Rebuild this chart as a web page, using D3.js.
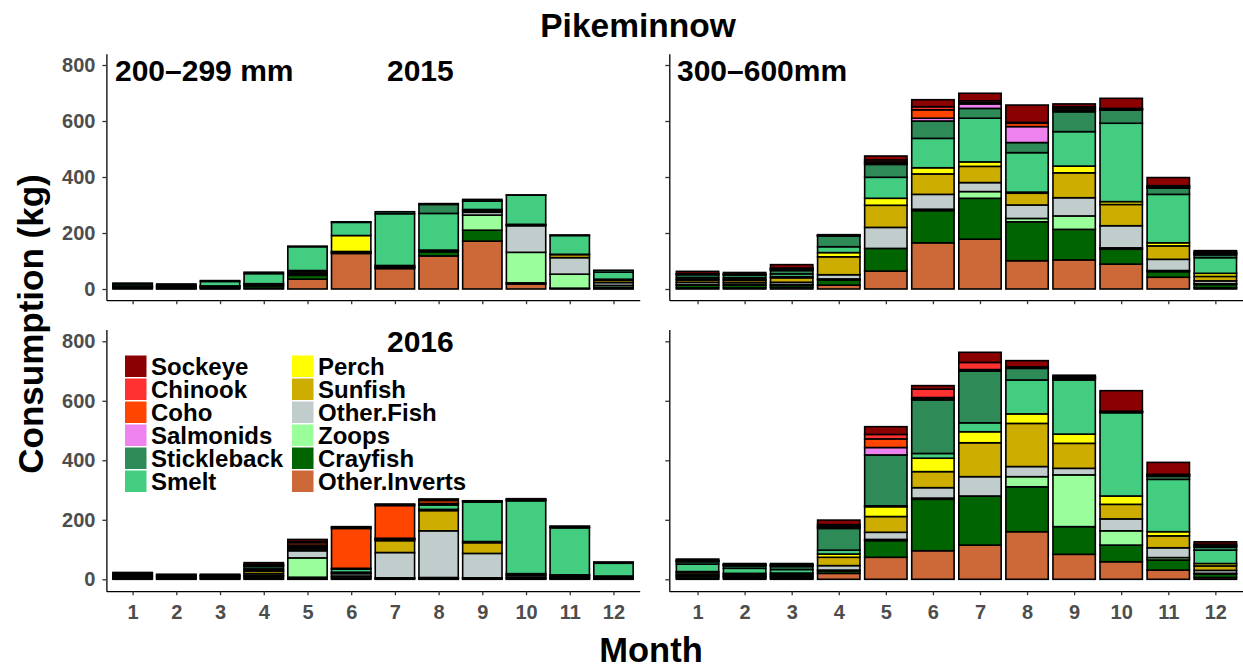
<!DOCTYPE html>
<html>
<head>
<meta charset="utf-8">
<script src="https://cdn.jsdelivr.net/npm/d3@7"></script>
<style>
  body { margin: 0; background: #fff; }
  svg { display: block; font-family: "Liberation Sans", Arial, sans-serif; font-weight: bold; }
</style>
</head>
<body>
<svg id="chart" width="1243" height="668"></svg>
<script>
// prey groups, stacked bottom -> top
var species = ["Other.Inverts", "Crayfish", "Zoops", "Other.Fish", "Sunfish", "Perch",
               "Smelt", "Stickleback", "Salmonids", "Coho", "Chinook", "Sockeye"];
var colors = ["#CD6839", "#006400", "#9AFF9A", "#C1CDCD", "#CDAD00", "#FFFF00",
              "#43CD80", "#2E8B57", "#EE82EE", "#FF4500", "#FF3030", "#8B0000"];
var months = [1, 2, 3, 4, 5, 6, 7, 8, 9, 10, 11, 12];
var yTicks = [0, 200, 400, 600, 800];

// consumption (kg) per month, one row per species in the order above
var small2015 = [
  [3, 2, 2, 3, 35, 127, 73, 118, 171, 18, 2, 2],
  [4, 3, 3, 8, 14, 3, 3, 15, 39, 4, 1, 4],
  [1, 0, 0, 0, 3, 0, 0, 0, 54, 109, 50, 7],
  [2, 3, 3, 3, 4, 2, 2, 3, 10, 95, 59, 10],
  [1, 2, 2, 3, 6, 2, 4, 3, 5, 3, 11, 8],
  [0, 0, 1, 2, 4, 57, 2, 0, 5, 2, 1, 4],
  [7, 4, 16, 36, 85, 47, 185, 131, 30, 104, 67, 25],
  [3, 4, 3, 5, 2, 2, 7, 32, 6, 1, 2, 7],
  [0, 0, 0, 0, 0, 0, 0, 3, 0, 0, 0, 0],
  [0, 0, 0, 0, 0, 0, 0, 0, 0, 0, 0, 0],
  [0, 0, 0, 0, 0, 0, 0, 0, 0, 0, 0, 0],
  [0, 0, 0, 0, 0, 0, 0, 0, 0, 0, 0, 0]
];
var large2015 = [
  [4, 4, 6, 14, 64, 165, 178, 101, 104, 89, 42, 4],
  [10, 10, 8, 18, 81, 115, 146, 139, 109, 53, 20, 12],
  [2, 2, 2, 4, 0, 5, 24, 12, 48, 5, 4, 3],
  [8, 7, 8, 15, 75, 53, 32, 48, 65, 79, 40, 10],
  [8, 8, 16, 64, 79, 73, 58, 42, 89, 76, 48, 16],
  [3, 3, 4, 15, 25, 22, 16, 4, 24, 10, 11, 11],
  [6, 6, 10, 21, 75, 105, 156, 141, 123, 280, 173, 56],
  [10, 10, 12, 38, 46, 62, 35, 36, 71, 47, 22, 10],
  [2, 2, 3, 1, 4, 10, 16, 57, 6, 2, 3, 3],
  [0, 0, 3, 1, 5, 30, 4, 12, 6, 2, 3, 3],
  [2, 1, 3, 1, 7, 11, 7, 3, 6, 2, 3, 3],
  [8, 6, 12, 2, 14, 25, 27, 62, 10, 36, 29, 6]
];
var small2016 = [
  [2, 2, 2, 5, 3, 3, 2, 2, 2, 2, 2, 2],
  [4, 4, 4, 6, 4, 6, 2, 3, 2, 3, 3, 3],
  [0, 0, 0, 2, 65, 2, 1, 1, 1, 2, 2, 1],
  [3, 3, 3, 6, 24, 8, 85, 157, 82, 6, 4, 3],
  [2, 3, 3, 8, 6, 3, 40, 68, 36, 4, 3, 2],
  [0, 0, 0, 3, 4, 2, 3, 4, 4, 2, 1, 0],
  [5, 2, 2, 5, 4, 10, 2, 15, 133, 245, 158, 43],
  [4, 3, 3, 8, 3, 3, 2, 3, 2, 3, 2, 3],
  [0, 0, 0, 2, 2, 0, 1, 2, 0, 0, 0, 0],
  [0, 0, 0, 3, 8, 134, 110, 10, 0, 0, 0, 0],
  [0, 0, 0, 2, 4, 3, 3, 3, 0, 1, 0, 0],
  [3, 0, 0, 6, 7, 3, 2, 2, 2, 3, 4, 1]
];
var large2016 = [
  [4, 4, 3, 20, 74, 96, 115, 160, 84, 59, 31, 6],
  [6, 5, 5, 8, 56, 173, 165, 151, 93, 56, 34, 12],
  [2, 1, 2, 3, 4, 4, 0, 34, 174, 48, 8, 2],
  [5, 4, 4, 15, 24, 35, 65, 34, 22, 40, 33, 10],
  [6, 4, 5, 28, 53, 54, 114, 145, 84, 49, 40, 15],
  [3, 2, 2, 11, 33, 45, 37, 32, 31, 28, 14, 8],
  [25, 17, 12, 13, 3, 16, 30, 114, 182, 280, 176, 45],
  [8, 8, 10, 73, 171, 180, 174, 39, 5, 2, 10, 10],
  [2, 2, 2, 3, 25, 3, 2, 2, 2, 1, 2, 3],
  [2, 2, 2, 5, 29, 5, 3, 2, 2, 1, 3, 3],
  [1, 1, 2, 5, 15, 28, 24, 1, 2, 1, 2, 4],
  [4, 3, 4, 15, 26, 12, 34, 21, 5, 69, 40, 8]
];

var svg = d3.select("#chart");
var color = d3.scaleOrdinal().domain(species).range(colors);

var panels = [
  { data: small2015, x: [106.4, 639.7], y: [300.2, 53.8], labels: true, xlab: false },
  { data: large2015, x: [669.3, 1243.6], y: [300.2, 53.8], labels: false, xlab: false },
  { data: small2016, x: [106.4, 639.7], y: [591.2, 329.4], labels: true, xlab: true },
  { data: large2016, x: [669.3, 1243.6], y: [591.2, 329.4], labels: false, xlab: true }
];

panels.forEach(function (p) {
  var x = d3.scaleLinear().domain([0.4, 12.6]).range(p.x);
  var y = d3.scaleLinear().domain([-40, 840]).range(p.y);
  var bw = x(1.45) - x(0.55);

  var table = months.map(function (m, i) {
    var row = { month: m };
    species.forEach(function (s, k) { row[s] = p.data[k][i]; });
    return row;
  });
  var stacked = d3.stack().keys(species)(table);

  var g = svg.append("g");
  g.selectAll("g.layer").data(stacked).enter().append("g")
    .attr("class", "layer")
    .attr("fill", function (d) { return color(d.key); })
    .selectAll("rect")
    .data(function (d) { return d.filter(function (v) { return v[1] - v[0] > 0; }); })
    .enter().append("rect")
    .attr("x", function (d) { return x(d.data.month) - bw / 2; })
    .attr("width", bw)
    .attr("y", function (d) { return y(d[1]); })
    .attr("height", function (d) { return y(d[0]) - y(d[1]); })
    .attr("stroke", "#000")
    .attr("stroke-width", 1.6);

  var ya = svg.append("g").attr("transform", "translate(" + p.x[0] + ",0)")
    .call(d3.axisLeft(y).tickValues(yTicks).tickSize(4).tickSizeOuter(0).tickPadding(7));
  var xa = svg.append("g").attr("transform", "translate(0," + p.y[0] + ")")
    .call(d3.axisBottom(x).tickValues(months).tickSize(4).tickSizeOuter(0).tickPadding(10));

  [ya, xa].forEach(function (a) {
    a.select(".domain").attr("stroke", "#000").attr("stroke-width", 1.3);
    a.selectAll(".tick line").attr("stroke", "#333").attr("stroke-width", 1.3);
    a.selectAll("text").attr("fill", "#4D4D4D").style("font-size", "20px")
      .style("font-family", "Liberation Sans, Arial, sans-serif").style("font-weight", "bold");
  });
  if (!p.labels) ya.selectAll("text").remove();
  if (!p.xlab) xa.selectAll("text").remove();
});

// titles and panel labels
function label(txt, x, y, size, anchor) {
  return svg.append("text").attr("x", x).attr("y", y).attr("text-anchor", anchor || "start")
    .style("font-size", size + "px").attr("fill", "#000").text(txt);
}
label("Pikeminnow", 638, 37, 33.5, "middle");
label("Month", 651, 662, 34.5, "middle");
svg.append("text").attr("transform", "translate(43,324) rotate(-90)")
  .attr("text-anchor", "middle").style("font-size", "35px").text("Consumption (kg)");
label("200\u2013299 mm", 115, 81, 30);
label("2015", 387, 81, 30);
label("300\u2013600mm", 677, 81, 30);
label("2016", 387, 352, 30);

// legend, two columns of six
var legendOrder = species.slice().reverse();
var lg = svg.append("g");
lg.selectAll("g.key").data(legendOrder).enter().append("g")
  .attr("class", "key")
  .attr("transform", function (d, i) {
    var col = Math.floor(i / 6), row = i % 6;
    return "translate(" + (125 + col * 167) + "," + (355.5 + row * 23) + ")";
  })
  .each(function (d) {
    var k = d3.select(this);
    k.append("rect").attr("width", 21.5).attr("height", 21.5).attr("fill", color(d));
    k.append("text").attr("x", 26).attr("y", 19).style("font-size", "24px").text(d);
  });
</script>
</body>
</html>
